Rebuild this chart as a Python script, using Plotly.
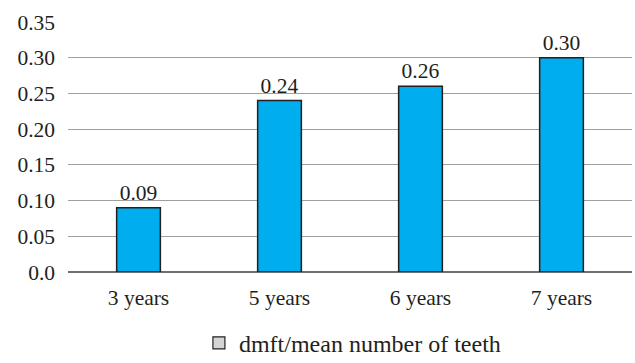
import plotly.graph_objects as go

# Mean dmft per child by age group
ages = ["3 years", "5 years", "6 years", "7 years"]
dmft = [0.09, 0.24, 0.26, 0.30]
value_labels = ["0.09", "0.24", "0.26", "0.30"]

y_ticks = [0.0, 0.05, 0.10, 0.15, 0.20, 0.25, 0.30, 0.35]
y_tick_text = ["0.0", "0.05", "0.10", "0.15", "0.20", "0.25", "0.30", "0.35"]

legend_name = "dmft/mean number of teeth"

FONT = "Liberation Serif"
FS = 21.5
INK = "#231f20"

fig = go.Figure()

fig.add_trace(go.Bar(
    x=ages,
    y=dmft,
    text=value_labels,
    textposition="outside",
    textfont=dict(size=FS, color=INK, family=FONT),
    cliponaxis=False,
    marker=dict(color="#00aeef", line=dict(color=INK, width=1.5)),
    width=0.31,
    showlegend=False,
))

# Legend key (grey swatch)
fig.add_trace(go.Bar(
    x=[ages[0]],
    y=[None],
    name=legend_name,
    marker=dict(color="#d4d4d4", line=dict(color=INK, width=1.2)),
    showlegend=True,
))

fig.update_layout(
    width=635,
    height=363,
    margin=dict(l=68, r=3, t=22, b=91, autoexpand=False),
    paper_bgcolor="white",
    plot_bgcolor="white",
    font=dict(family=FONT, size=FS, color=INK),
    barmode="overlay",
    legend=dict(
        orientation="h",
        x=0.555,
        xanchor="center",
        xref="container",
        yref="paper",
        y=-0.285,
        yanchor="middle",
        font=dict(size=24, family=FONT, color=INK),
        itemwidth=30,
    ),
    xaxis=dict(
        showgrid=False,
        showline=False,
        ticks="",
        ticklabelstandoff=10,
        tickfont=dict(size=FS, family=FONT, color=INK),
    ),
    yaxis=dict(
        range=[0, 0.35],
        tickvals=y_ticks,
        ticktext=y_tick_text,
        showgrid=True,
        gridcolor="#a0a0a0",
        gridwidth=1.2,
        zeroline=True,
        zerolinecolor="#707070",
        zerolinewidth=1.6,
        showline=False,
        ticks="",
        ticklabelstandoff=12,
        tickfont=dict(size=FS, family=FONT, color=INK),
    ),
)

fig.write_html("out.html")
